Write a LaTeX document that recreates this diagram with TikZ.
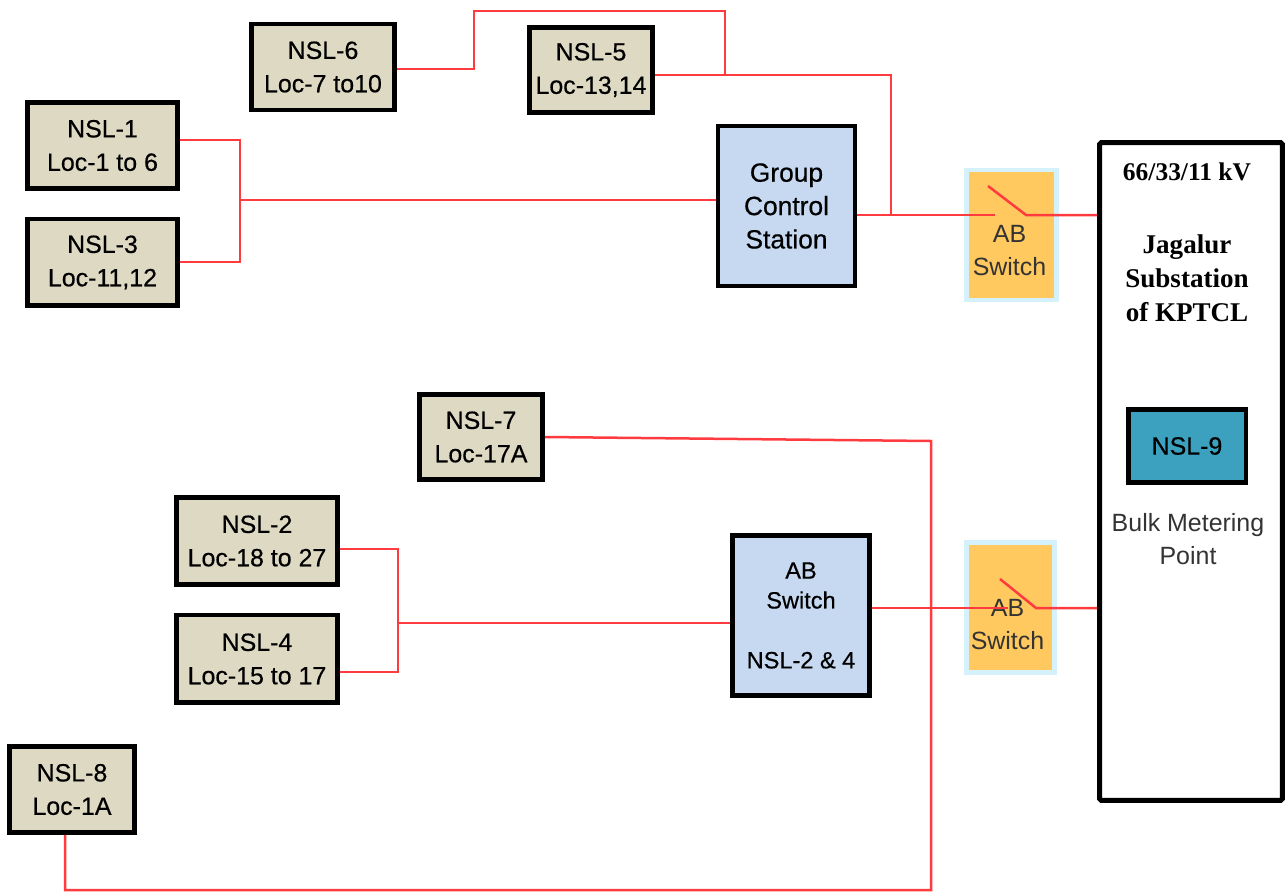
\documentclass[tikz,border=0pt]{standalone}
\usepackage{fontspec}
\setmainfont{Liberation Sans}
\newfontfamily\boxfont[FakeBold=0.5]{Liberation Sans}
\newfontfamily\subfont{Liberation Serif}
\usepackage{xcolor}
\usetikzlibrary{positioning}
\definecolor{nslfill}{HTML}{DDD9C3}
\definecolor{ctrlfill}{HTML}{C6D9F1}
\definecolor{swfill}{HTML}{FFC95F}
\definecolor{swhalo}{HTML}{D5F1FB}
\definecolor{meterfill}{HTML}{3BA1BF}
\definecolor{wirered}{HTML}{FF3B3F}

\begin{document}
\begin{tikzpicture}[
    x=0.02cm, y=-0.02cm,
    nsl/.style={draw=black, rectangle, line width=0.09cm, fill=nslfill, align=center,
      inner sep=0pt, font=\boxfont\fontsize{14.2}{19}\selectfont},
    ctrl/.style={nsl, fill=ctrlfill, minimum width=2.74cm, minimum height=3.2cm},
    swbox/.style={draw=swhalo, rectangle, line width=0.09cm, fill=swfill, inner sep=0pt,
      minimum width=1.8cm, minimum height=2.6cm},
    swtext/.style={align=center, inner sep=0pt, text=black!80,
      font=\fontsize{14.2}{19}\selectfont},
    subtext/.style={align=center, inner sep=0pt, font=\subfont\bfseries\fontsize{14.5}{19}\selectfont},
    wire/.style={draw=wirered, line width=0.05cm}
]
\useasboundingbox (0,0) rectangle (1285,892);

% upper group
\node[nsl, minimum width=3.0cm, minimum height=1.73cm] (nsl1) at (102.5,145.5) {NSL-1\\Loc-1 to 6};
\node[nsl, minimum width=3.0cm, minimum height=1.73cm, below=0.52cm of nsl1] (nsl3) {NSL-3\\Loc-11,12};
\node[nsl, minimum width=2.87cm, minimum height=1.73cm] (nsl6) at (323,67) {NSL-6\\Loc-7 to10};
\node[nsl, minimum width=2.47cm, minimum height=1.71cm] (nsl5) at (591,70) {NSL-5\\Loc-13,14};
\node[ctrl, font=\boxfont\fontsize{15}{19}\selectfont] (gcs) at (786.5,206) {Group\\Control\\Station};
\node[swbox] (swtop) at (1011.5,235) {};
\node[swtext, xshift=-0.04cm, yshift=-0.31cm] (swtoptext) at (swtop) {AB\\Switch};

% substation
\node[draw=black, rectangle, line width=0.1cm, fill=white, rounded corners=1pt, inner sep=0pt,
  minimum width=3.66cm, minimum height=13.16cm] (sub) at (1191,471.5) {};
\node[subtext, below=0.44cm of sub.north, xshift=-0.08cm] (subkv) {66/33/11 kV};
\node[subtext, font=\subfont\bfseries\fontsize{15.4}{19.3}\selectfont, below=1.08cm of subkv] (subname) {Jagalur\\Substation\\of KPTCL};
\node[nsl, fill=meterfill, minimum width=2.35cm, minimum height=1.47cm] (nsl9) at (1187,446) {NSL-9};
\node[swtext, below=0.56cm of nsl9, xshift=0.02cm] (bulk) {Bulk Metering\\Point};

% lower group
\node[nsl, minimum width=2.47cm, minimum height=1.71cm] (nsl7) at (481,437) {NSL-7\\Loc-17A};
\node[nsl, minimum width=3.23cm, minimum height=1.75cm] (nsl2) at (257,541) {NSL-2\\Loc-18 to 27};
\node[nsl, minimum width=3.23cm, minimum height=1.75cm, below=0.52cm of nsl2] (nsl4) {NSL-4\\Loc-15 to 17};
\node[ctrl, minimum width=2.75cm, minimum height=3.21cm, font=\boxfont\fontsize{13.4}{17}\selectfont] (abbox) at (801,615.5) {AB\\Switch\\[0.6cm]NSL-2 \& 4};
\node[swbox, minimum width=1.76cm] (swbot) at (1010.5,607.5) {};
\node[swtext, xshift=-0.06cm, yshift=-0.34cm] (swbottext) at (swbot) {AB\\Switch};
\node[nsl, minimum width=2.51cm, minimum height=1.73cm] (nsl8) at (72,789.5) {NSL-8\\Loc-1A};

% junctions and switch contacts
\coordinate (topbus) at (240,200);
\coordinate (botbus) at (398,623);
\coordinate (topin) at (995,215);
\coordinate (topout) at (1026,215);
\coordinate (topblade) at (988,186);
\coordinate (botin) at (1008,608);
\coordinate (botout) at (1036,608);
\coordinate (botblade) at (1000,579);
\coordinate (join) at (891,215);
\coordinate (tee) at (725,75);

\draw[wire] (nsl1.east |- 0,140) -| (topbus);
\draw[wire] (nsl3.east |- 0,262) -| (topbus);
\draw[wire] (topbus) -- (gcs.west |- topbus);
\draw[wire] (nsl6.east |- 0,69) -- (474,69) -- (474,11) -- (725,11) -- (tee);
\draw[wire] (nsl5.east |- tee) -| (join);
\draw[wire] (gcs.east |- topin) -- (topin);
\draw[wire] (topblade) -- (topout) -- (sub.west |- topout);

\draw[wire] (nsl2.east |- 0,549) -| (botbus);
\draw[wire] (nsl4.east |- 0,672) -| (botbus);
\draw[wire] (botbus) -- (abbox.west |- botbus);
\draw[wire] (abbox.east |- botin) -- (botin);
\draw[wire] (botblade) -- (botout) -- (sub.west |- botout);
\draw[wire] (nsl7.east) -- (931,441) -- (931,890) -- (65,890) -- (nsl8.south -| 65,0);
\end{tikzpicture}
\end{document}
